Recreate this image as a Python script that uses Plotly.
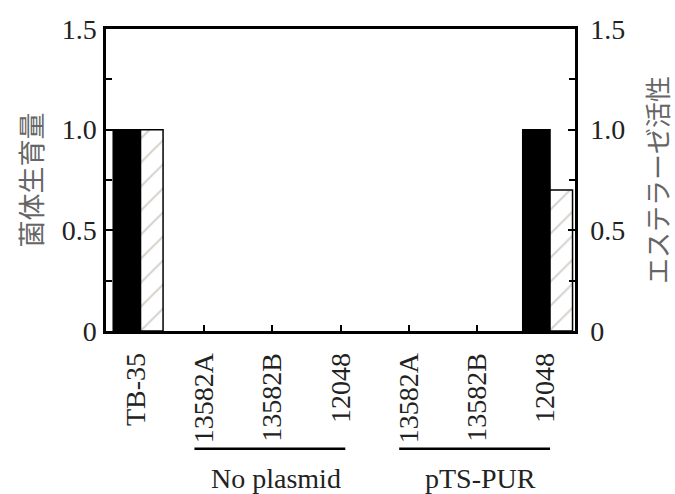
import plotly.graph_objects as go

labels = ["TB-35", "13582A", "13582B", "12048", "13582A", "13582B", "12048"]
growth = [1.0, 0, 0, 0, 0, 0, 1.0]
esterase = [1.0, 0, 0, 0, 0, 0, 0.70]
groups = [("No plasmid", 1, 3), ("pTS-PUR", 4, 6)]
ytickvals = [0, 0.5, 1.0, 1.5]
yticktext = ["0", "0.5", "1.0", "1.5"]

xs = list(range(len(labels)))
serif = "Liberation Serif"
cjk = "Noto Sans CJK JP"

def edge(vals):
    return [1.5 if v > 0 else 0 for v in vals]

fig = go.Figure()
fig.add_trace(go.Bar(x=xs, y=growth, width=0.40, offset=-0.33,
                     marker=dict(color="black", line=dict(color="black", width=edge(growth))),
                     yaxis="y", showlegend=False))
fig.add_trace(go.Bar(x=xs, y=esterase, width=0.33, offset=0.07,
                     marker=dict(color="white", line=dict(color="black", width=edge(esterase)),
                                 pattern=dict(shape="/", fgcolor="#b0a49c", bgcolor="white",
                                              size=17, solidity=0.12)),
                     yaxis="y2", showlegend=False))

axis_common = dict(range=[0, 1.5], tickvals=ytickvals, ticktext=yticktext,
                   ticks="inside", ticklen=7, tickwidth=2, tickcolor="black",
                   showline=True, linecolor="black", linewidth=2.5,
                   showgrid=False, zeroline=False, automargin=False,
                   tickfont=dict(family=serif, size=28, color="#222"),
                   minor=dict(tickmode="linear", tick0=0, dtick=0.25, ticks="inside",
                              ticklen=6, tickwidth=2, tickcolor="black"))

fig.update_layout(
    width=675, height=494,
    margin=dict(l=106, r=100, t=29, b=163),
    plot_bgcolor="white", paper_bgcolor="white",
    xaxis=dict(range=[-0.436, 6.436], tickvals=xs, ticktext=labels, tickangle=-90,
               ticks="inside", ticklen=6, tickwidth=2, tickcolor="black",
               showline=True, linecolor="black", linewidth=2.5, mirror=True,
               showgrid=False, zeroline=False, automargin=False, ticklabelstandoff=8,
               tickfont=dict(family=serif, size=28, color="#222")),
    yaxis=dict(**axis_common, side="left", ticklabelstandoff=1,
               title=dict(text="菌体生育量", font=dict(family=cjk, size=27, color="#666"), standoff=12)),
    yaxis2=dict(**axis_common, side="right", overlaying="y", ticklabelstandoff=7,
                title=dict(text="エステラーゼ活性", font=dict(family=cjk, size=26, color="#666"), standoff=26)),
)

for name, a, b in groups:
    fig.add_shape(type="line", xref="x", yref="paper", x0=a - 0.14, x1=b + 0.07,
                  y0=-0.39, y1=-0.39, line=dict(color="black", width=2.5))
    fig.add_annotation(x=(a + b) / 2 + 0.05, y=-0.487, xref="x", yref="paper", text=name,
                       showarrow=False, font=dict(family=serif, size=28, color="#222"),
                       yanchor="middle")

fig.write_html("out.html", config={"displayModeBar": False},
               post_script="document.body.style.margin='0';document.body.style.padding='0';")
